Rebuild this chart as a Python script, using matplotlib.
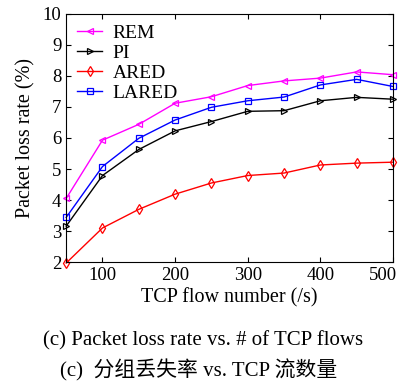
import matplotlib
matplotlib.use("Agg")
import matplotlib.pyplot as plt
import matplotlib.transforms as mtransforms

flows = [50, 100, 150, 200, 250, 300, 350, 400, 450, 500]
rem = [4.05, 5.93, 6.44, 7.12, 7.33, 7.69, 7.84, 7.93, 8.13, 8.04]
pi = [3.16, 4.79, 5.63, 6.23, 6.53, 6.86, 6.88, 7.20, 7.31, 7.25]
ared = [1.97, 3.10, 3.70, 4.19, 4.55, 4.79, 4.87, 5.13, 5.19, 5.22]
lared = [3.44, 5.08, 5.99, 6.58, 6.99, 7.20, 7.32, 7.71, 7.89, 7.66]

xticks = [100, 200, 300, 400, 500]
yticks = [2, 3, 4, 5, 6, 7, 8, 9, 10]

plt.rcParams['font.family'] = ['Liberation Serif', 'Noto Sans CJK SC']

fig = plt.figure(figsize=(4.06, 3.86), dpi=100)
ax = fig.add_axes([0.163, 0.321, 0.805, 0.643])

ax.plot(flows, rem, color="magenta", marker="<", mfc="none", ms=5, mew=0.9, lw=1, label="REM", clip_on=False)
ax.plot(flows, pi, color="black", marker=">", mfc="none", ms=5, mew=0.9, lw=1, label="PI", clip_on=False)
ax.plot(flows, ared, color="red", marker="d", mfc="none", ms=5, mew=0.9, lw=1, label="ARED", clip_on=False)
ax.plot(flows, lared, color="blue", marker="s", mfc="none", ms=4.5, mew=0.9, lw=1, label="LARED", clip_on=False)

ax.set_xlim(50, 500)
ax.set_ylim(2, 10)
ax.set_xticks(xticks)
ax.set_yticks(yticks)
ax.tick_params(direction="in", top=True, right=True, labelsize=13.5, length=3.5)
ax.set_xlabel("TCP flow number (/s)", fontsize=14.5, labelpad=3)
ax.set_ylabel("Packet loss rate (%)", fontsize=14.5, labelpad=5)

# last x label sits against the figure edge
last = ax.get_xticklabels()[-1]
last.set_horizontalalignment("right")
last.set_transform(last.get_transform() + mtransforms.ScaledTranslation(0.04, 0, fig.dpi_scale_trans))

ax.legend(loc="upper left", frameon=False, fontsize=14, handlelength=1.3,
          labelspacing=0.12, borderaxespad=0.25, handletextpad=0.55, borderpad=0.3)

fig.text(0.5, 0.116, "(c) Packet loss rate vs. # of TCP flows", ha="center", va="center", fontsize=15)
fig.text(0.49, 0.041, "(c)  分组丢失率 vs. TCP 流数量", ha="center", va="center", fontsize=15)

fig.savefig("out.png", dpi=100)
